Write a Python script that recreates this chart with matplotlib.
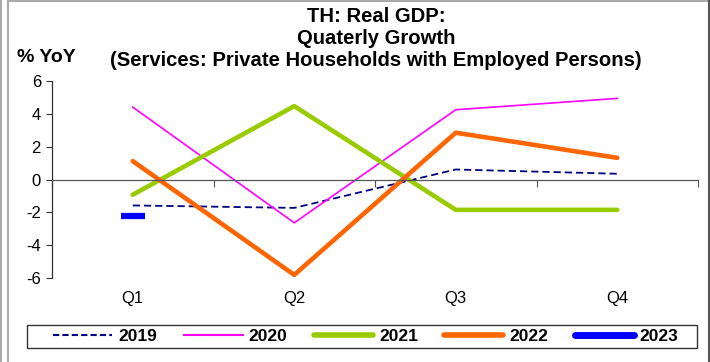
import matplotlib
matplotlib.use("Agg")
import matplotlib.pyplot as plt
from matplotlib.lines import Line2D
from matplotlib.patches import Rectangle

plt.rcParams['font.family'] = ['Liberation Sans', 'DejaVu Sans']

categories = ["Q1", "Q2", "Q3", "Q4"]
s2019 = [-1.58, -1.73, 0.61, 0.35]
s2020 = [4.41, -2.64, 4.25, 4.94]
s2021 = [-0.93, 4.47, -1.85, -1.85]
s2022 = [1.12, -5.81, 2.85, 1.32]
s2023 = [-2.2]
y_ticks = [-6, -4, -2, 0, 2, 4, 6]
title_lines = ["TH: Real GDP:", "Quaterly Growth", "(Services: Private Households with Employed Persons)"]

W, H = 710, 362
fig = plt.figure(figsize=(7.1, 3.62), dpi=100)
ax = fig.add_axes([52/W, 1-278/H, (698-52)/W, (278-81)/H])

x = list(range(len(categories)))
ax.plot(x, s2019, color="#000080", lw=1.3, ls=(0, (4, 2.2)), label="2019")
ax.plot(x, s2020, color="#FF00FF", lw=1.2, label="2020")
ax.plot(x, s2021, color="#99CC00", lw=3.3, solid_capstyle="round", solid_joinstyle="round", label="2021")
ax.plot(x, s2022, color="#FF6600", lw=3.3, solid_capstyle="round", solid_joinstyle="round", label="2022")
ax.plot(x[:len(s2023)], s2023, color="#0000FF", lw=0, marker="_", ms=17, mew=4.5, label="2023")

ax.set_xlim(-0.5, 3.5)
ax.set_ylim(-6, 6)
ax.set_yticks(y_ticks)
ax.set_yticklabels([str(v) for v in y_ticks], fontsize=12)
ax.tick_params(axis='y', direction='out', length=4, width=0.8, color='#333333', pad=4)

for s in ["top", "right"]:
    ax.spines[s].set_visible(False)
ax.spines["left"].set_color("#333333")
ax.spines["left"].set_linewidth(0.9)
ax.spines["bottom"].set_position(("data", 0))
ax.spines["bottom"].set_color("#555555")
ax.spines["bottom"].set_linewidth(0.9)

ax.set_xticks(x)
ax.set_xticklabels(categories, fontsize=12)
ax.tick_params(axis='x', which='major', length=0, pad=80.5)
ax.set_xticks([-0.5, 0.5, 1.5, 2.5, 3.5], minor=True)
ax.tick_params(axis='x', which='minor', direction='out', length=5, width=0.8, color='#555555')

for txt, yc in zip(title_lines, [16.5, 38.5, 60.5]):
    fig.text(376/W, 1-yc/H, txt, ha="center", va="center", fontsize=14.6, fontweight="bold")
fig.text(17/W, 1-57/H, "% YoY", ha="left", va="center", fontsize=14, fontweight="bold")

handles = [
    Line2D([], [], color="#000080", lw=1.5, ls=(0, (3, 1.5))),
    Line2D([], [], color="#FF00FF", lw=1.5),
    Line2D([], [], color="#99CC00", lw=4, solid_capstyle="round"),
    Line2D([], [], color="#FF6600", lw=4, solid_capstyle="round"),
    Line2D([], [], color="#0000FF", lw=5, solid_capstyle="round"),
]
leg = fig.legend(handles, ["2019", "2020", "2021", "2022", "2023"], ncol=5,
                 loc="center", bbox_to_anchor=(366/W, 1-336.5/H),
                 frameon=False, prop={"weight": "bold", "size": 12.5},
                 handlelength=3.4, handletextpad=0.35, columnspacing=1.52,
                 borderpad=0, borderaxespad=0)
fig.add_artist(Rectangle((27/W, 1-348/H), (697-27)/W, 23/H, transform=fig.transFigure,
                         fill=False, edgecolor="#333333", lw=1.0))

# outer frame
fig.add_artist(Line2D([8/W, 8/W], [0, 1], transform=fig.transFigure, color="#AAAAAA", lw=1.5))
fig.add_artist(Line2D([0.5/W, 0.5/W], [0, 1], transform=fig.transFigure, color="#AAAAAA", lw=1.5))
fig.add_artist(Line2D([8/W, 1], [1-0.8/H, 1-0.8/H], transform=fig.transFigure, color="#AAAAAA", lw=1.5))
fig.add_artist(Line2D([1-1/W, 1-1/W], [0, 1], transform=fig.transFigure, color="#555555", lw=1.5))

fig.savefig("out.png", dpi=100)
